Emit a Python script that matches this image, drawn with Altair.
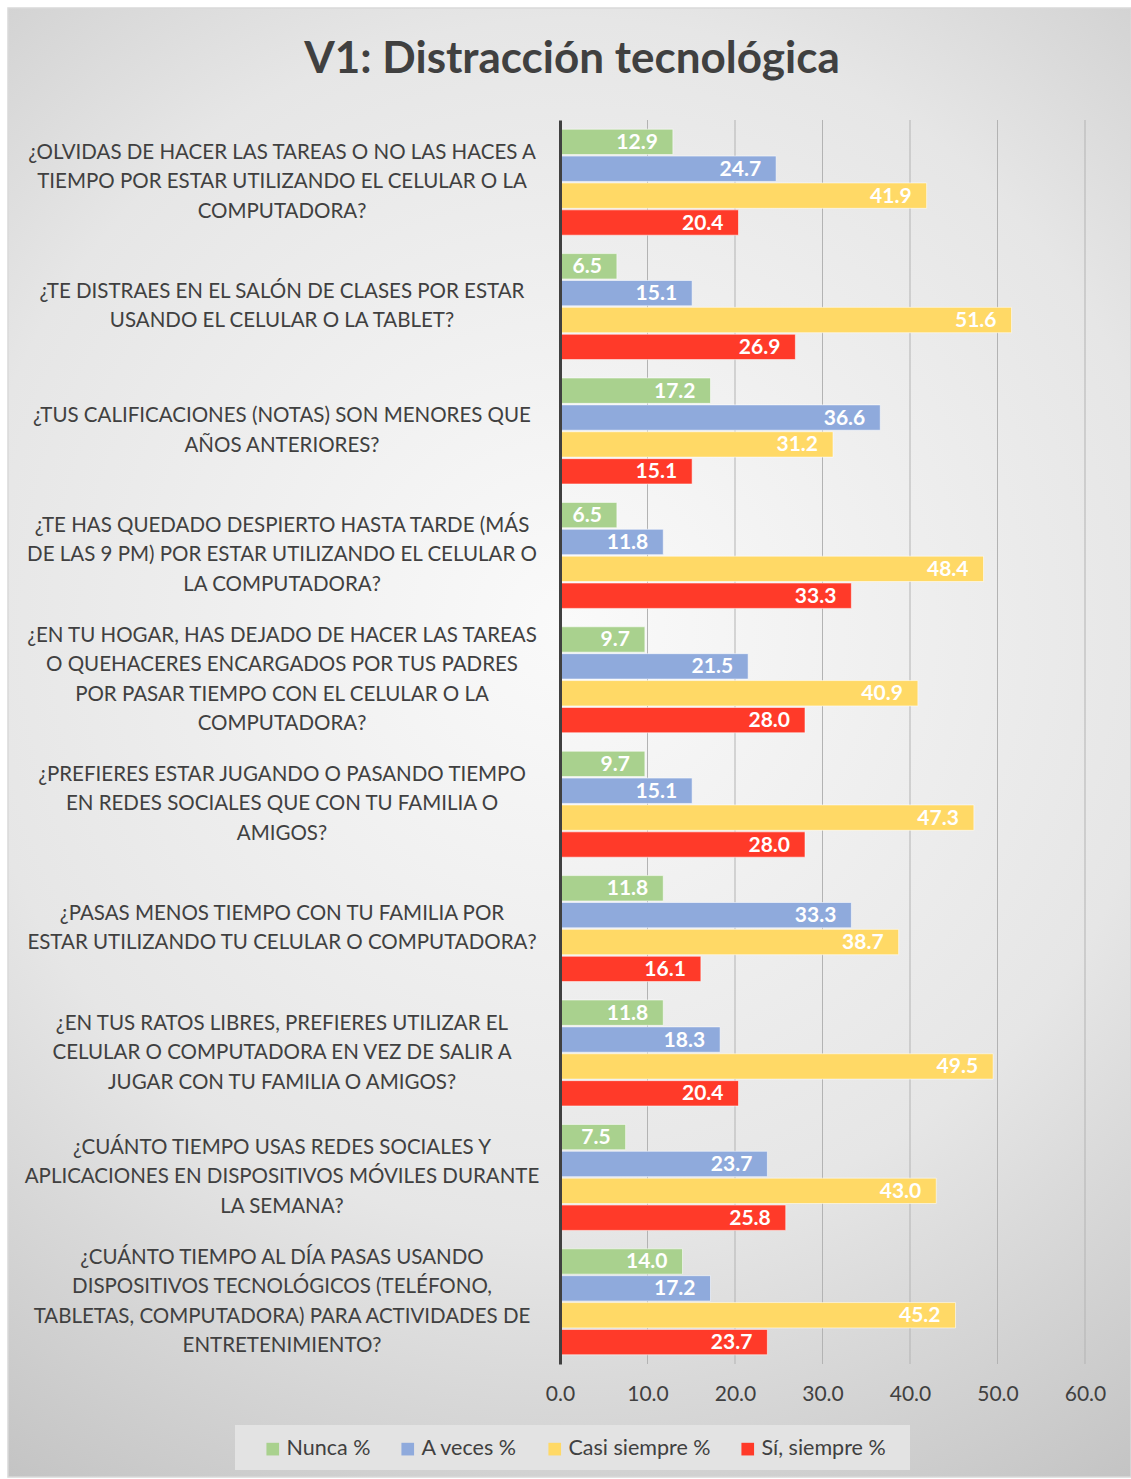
import altair as alt
import pandas as pd

questions = [
    "¿OLVIDAS DE HACER LAS TAREAS O NO LAS HACES A\nTIEMPO POR ESTAR UTILIZANDO EL CELULAR O LA\nCOMPUTADORA?",
    "¿TE DISTRAES EN EL SALÓN DE CLASES POR ESTAR\nUSANDO EL CELULAR O LA TABLET?",
    "¿TUS CALIFICACIONES (NOTAS) SON MENORES QUE\nAÑOS ANTERIORES?",
    "¿TE HAS QUEDADO DESPIERTO HASTA TARDE (MÁS\nDE LAS 9 PM) POR ESTAR UTILIZANDO EL CELULAR O\nLA COMPUTADORA?",
    "¿EN TU HOGAR, HAS DEJADO DE HACER LAS TAREAS\nO QUEHACERES ENCARGADOS POR TUS PADRES\nPOR PASAR TIEMPO CON EL CELULAR O LA\nCOMPUTADORA?",
    "¿PREFIERES ESTAR JUGANDO O PASANDO TIEMPO\nEN REDES SOCIALES QUE CON TU FAMILIA O\nAMIGOS?",
    "¿PASAS MENOS TIEMPO CON TU FAMILIA POR\nESTAR UTILIZANDO TU CELULAR O COMPUTADORA?",
    "¿EN TUS RATOS LIBRES, PREFIERES UTILIZAR EL\nCELULAR O COMPUTADORA EN VEZ DE SALIR A\nJUGAR CON TU FAMILIA O AMIGOS?",
    "¿CUÁNTO TIEMPO USAS REDES SOCIALES Y\nAPLICACIONES EN DISPOSITIVOS MÓVILES DURANTE\nLA SEMANA?",
    "¿CUÁNTO TIEMPO AL DÍA PASAS USANDO\nDISPOSITIVOS TECNOLÓGICOS (TELÉFONO,\nTABLETAS, COMPUTADORA) PARA ACTIVIDADES DE\nENTRETENIMIENTO?",
]
series = ["Nunca %", "A veces %", "Casi siempre %", "Sí, siempre %"]
colors = ["#A9D18E", "#8FAADC", "#FFD966", "#FF3A29"]

nunca = [12.9, 6.5, 17.2, 6.5, 9.7, 9.7, 11.8, 11.8, 7.5, 14.0]
a_veces = [24.7, 15.1, 36.6, 11.8, 21.5, 15.1, 33.3, 18.3, 23.7, 17.2]
casi_siempre = [41.9, 51.6, 31.2, 48.4, 40.9, 47.3, 38.7, 49.5, 43.0, 45.2]
si_siempre = [20.4, 26.9, 15.1, 33.3, 28.0, 28.0, 16.1, 20.4, 25.8, 23.7]

title_text = "V1: Distracción tecnológica"
x_ticks = [0, 10, 20, 30, 40, 50, 60]
grid_ticks = [10, 20, 30, 40, 50, 60]

qids = [f"q{i}" for i in range(len(questions))]
rows = []
for i, q in enumerate(qids):
    for s, vals in zip(series, [nunca, a_veces, casi_siempre, si_siempre]):
        rows.append({"q": q, "serie": s, "valor": vals[i]})
df = pd.DataFrame(rows)
qdf = pd.DataFrame({"q": qids, "label": questions,
                    "n": [len(t.split("\n")) for t in questions]})
gdf = pd.DataFrame({"g": grid_ticks})

font = "Lato"
W, H = 525, 1244
LH = 29.5

yscale = alt.Scale(domain=qids, paddingInner=0.148, paddingOuter=0.074)
yenc = alt.Y("q:N", scale=yscale, axis=alt.Axis(labels=False, ticks=False, domain=True,
                                                  domainColor="#404040", domainWidth=3,
                                                  title=None, zindex=1))
xscale = alt.Scale(domain=[0, 60], nice=False)
xenc = alt.X("valor:Q", scale=xscale,
             axis=alt.Axis(values=x_ticks, format=".1f", grid=False, domain=False, ticks=False,
                           labelFontSize=21, labelColor="#404040", labelFont=font,
                           labelFlush=False, labelPadding=19, title=None, zindex=1))
yoff = alt.YOffset("serie:N", sort=series,
                   scale=alt.Scale(domain=series, paddingInner=0.057, paddingOuter=0.0))

one = pd.DataFrame({"a": [0]})

background = alt.Chart(one).mark_rect(
    fill={"gradient": "radial", "x1": 0.5, "y1": 0.42, "r1": 0.0,
          "x2": 0.5, "y2": 0.42, "r2": 0.75,
          "stops": [{"offset": 0, "color": "#FAFAFA"}, {"offset": 0.55, "color": "#E6E6E6"},
                    {"offset": 1, "color": "#BDBDBD"}]},
    stroke="#D9D9D9", strokeWidth=1.5,
).encode(x=alt.value(-552), x2=alt.value(571), y=alt.value(-112), y2=alt.value(1357))

legend_box = alt.Chart(one).mark_rect(fill="#E3E3E3").encode(
    x=alt.value(235 - 560), x2=alt.value(910 - 560), y=alt.value(1425 - 120), y2=alt.value(1470 - 120)
)

title = alt.Chart(one).mark_text(text=title_text, font=font, fontSize=44, fontWeight="bold",
                                 color="#404040", align="center", baseline="alphabetic").encode(
    x=alt.value(572 - 560), y=alt.value(73 - 120)
)

grid = alt.Chart(gdf).mark_rule(color="#B3B3B3", strokeWidth=1).encode(
    x=alt.X("g:Q", scale=xscale), y=alt.value(0), y2=alt.value(H)
)

bars = alt.Chart(df).mark_bar(stroke="white", strokeWidth=1, strokeOpacity=0.55).encode(
    x=xenc,
    y=yenc,
    yOffset=yoff,
    color=alt.Color("serie:N", sort=series, scale=alt.Scale(domain=series, range=colors),
                    legend=alt.Legend(title=None, orient="none", direction="horizontal",
                                      legendX=266 - 560 - 4, legendY=1438 - 120,
                                      padding=0,
                                      symbolType="square", symbolSize=160,
                                      symbolStrokeWidth=0, symbolOpacity=1,
                                      labelFontSize=21.5, labelFont=font, labelColor="#404040",
                                      columnPadding=26, labelOffset=3,
                                      zindex=1)),
)

values = alt.Chart(df).mark_text(align="right", baseline="middle", dx=-15, dy=1,
                                 color="white", fontWeight="bold", fontSize=21, font=font).encode(
    x=alt.X("valor:Q", scale=xscale),
    y=alt.Y("q:N", scale=yscale),
    yOffset=yoff,
    text=alt.Text("valor:Q", format=".1f"),
)

label_layers = []
for n in sorted(qdf["n"].unique()):
    label_layers.append(
        alt.Chart(qdf[qdf["n"] == n]).mark_text(
            align="center", baseline="middle", lineBreak="\n", lineHeight=LH,
            fontSize=20.5, font=font, color="#404040", dy=-(n - 1) * LH / 2
        ).encode(
            x=alt.value(-278),
            y=alt.Y("q:N", scale=yscale),
            text="label:N",
        )
    )

chart = alt.layer(background, legend_box, title, grid, bars, values, *label_layers).properties(
    width=W, height=H,
    padding={"left": 560, "top": 120, "right": 46, "bottom": 115},
    autosize=alt.AutoSizeParams(type="none"),
).configure_view(stroke=None).configure(background="white")

chart.save("out.html", embed_options={"renderer": "svg", "actions": False})
